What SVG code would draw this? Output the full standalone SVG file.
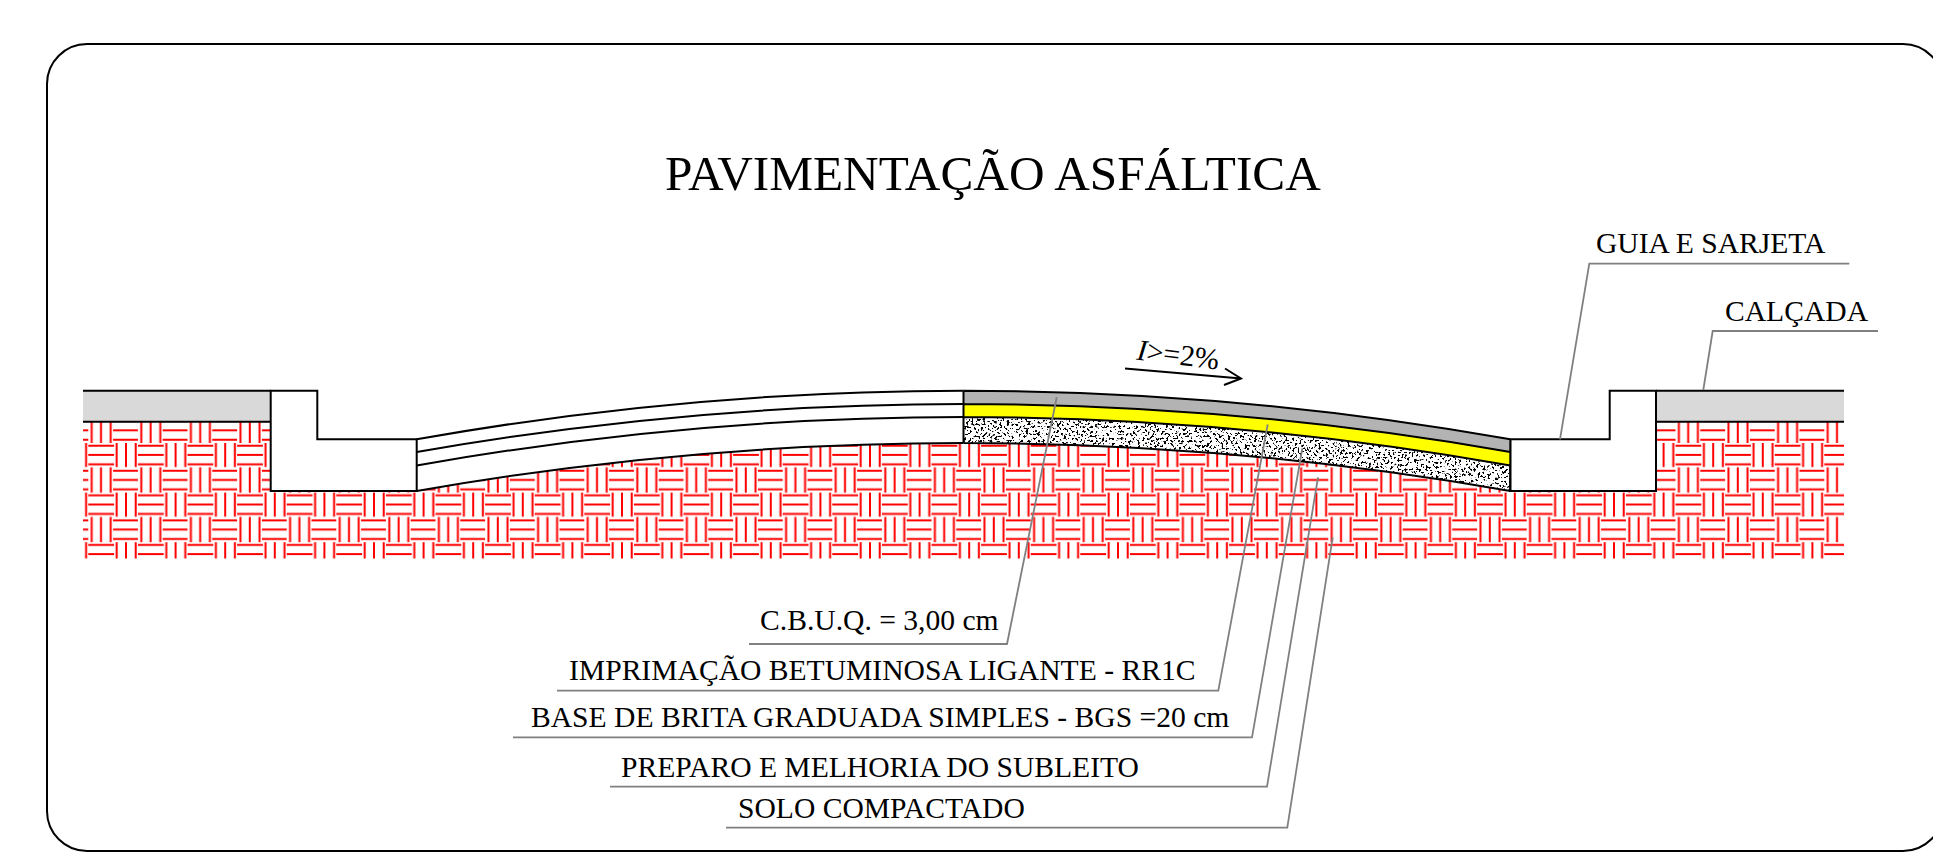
<svg xmlns="http://www.w3.org/2000/svg" width="1933" height="861" viewBox="0 0 1933 861">
<style>
.ln{fill:none;stroke:#000;stroke-width:2}
.ld{fill:none;stroke:#808080;stroke-width:1.8}
.lb{font-family:"Liberation Serif","Times New Roman",serif;font-size:29.6px;fill:#000}
.br{stroke:#f00;stroke-width:2;fill:none}
</style>
<defs>
<pattern id="weave" patternUnits="userSpaceOnUse" x="88.3" y="443" width="49.6" height="49.6">
<path class="br" d="M0 2.7H25.8M0 12H25.8M0 21.3H25.8M28.4 -1V24M37.7 -1V24M47.4 -1V24M24.8 27.7H50.6M24.8 37H50.6M24.8 46.3H50.6M3.4 24.3V49.6M12.7 24.3V49.6M22.4 24.3V49.6"/>
</pattern>
<filter id="grit" x="0" y="0" width="1" height="1" color-interpolation-filters="sRGB">
<feTurbulence type="fractalNoise" baseFrequency="0.42" numOctaves="2" seed="7" result="n"/>
<feColorMatrix in="n" type="matrix" values="0 0 0 0 0 0 0 0 0 0 0 0 0 0 0 20 0 0 0 -11.4" result="d"/>
<feComposite in="d" in2="SourceAlpha" operator="in"/>
</filter>
</defs>
<rect id="frame" x="47" y="44" width="1896" height="807" rx="40" ry="40" class="ln"/>
<text id="title" x="665" y="190" font-family="Liberation Serif, serif" font-size="49.300" fill="#000">PAVIMENTAÇÃO ASFÁLTICA</text>
<path id="solo" d="M83 421H270.700V491H416.700Q690 443 963.500 443Q1237 443 1510.300 491H1656V421H1844V558.500H83Z" fill="url(#weave)"/>
<g id="calcada-esq"><rect x="83" y="390.700" width="187.700" height="31" fill="#d9d9d9"/><path class="ln" d="M83 390.700H270.700M83 421.700H270.700"/></g>
<g id="calcada-dir"><rect x="1656" y="390.700" width="188" height="31" fill="#d9d9d9"/><path class="ln" d="M1656 390.700H1844M1656 421.700H1844"/></g>
<g id="guia-esq"><path class="ln" d="M270.700 390.700H317.300V439.300H416.700V491H270.700Z"/></g>
<g id="guia-dir"><path class="ln" d="M1656 390.700H1609.700V439.300H1510.300V491H1656Z"/></g>
<g id="pavimento-esq">
<path class="ln" d="M416.700 439.300Q690 390.700 963.500 390.700M416.700 452Q690 404 963.500 404M416.700 465.500Q690 417 963.500 417M416.700 491Q690 443 963.500 443"/>
</g>
<g id="pavimento-dir">
<path d="M963.500 443V417Q1237 417 1510.300 465.500V491Q1237 443 963.500 443Z" fill="#000" filter="url(#grit)"/>
<path d="M963.500 404Q1237 404 1510.300 452V465.500Q1237 417 963.500 417Z" fill="#ff0"/>
<path d="M963.500 390.700Q1237 390.700 1510.300 439.300V452Q1237 404 963.500 404Z" fill="#b3b3b3"/>
<path class="ln" d="M963.500 390.700Q1237 390.700 1510.300 439.300M963.500 404Q1237 404 1510.300 452M963.500 417Q1237 417 1510.300 465.500M963.500 443Q1237 443 1510.300 491M963.500 390.700V443M1510.300 439.300V491"/>
</g>
<g id="inclinacao">
<text x="0" y="0" transform="translate(1136 359.500) rotate(7)" font-family="Liberation Serif, serif" font-size="29.600" fill="#000"><tspan font-style="italic">I</tspan>&gt;=2%</text>
<path d="M1125 368.500L1241 378.500M1225 368.500L1241 378.500L1224 385" class="ln"/>
</g>
<g id="connectors">
<path class="ld" d="M749 644H1007L1056.700 397.300"/>
<path class="ld" d="M557 690.700H1218.300L1267.700 424.300"/>
<path class="ld" d="M513 737.300H1252L1302.300 448.300"/>
<path class="ld" d="M610 786.700H1267L1318 477.300"/>
<path class="ld" d="M726 827.700H1287.300L1332.700 537.300"/>
<path class="ld" d="M1849.300 263.700H1589.300L1560 439.300"/>
<path class="ld" d="M1878 331H1712.700L1703.300 390"/>
</g>
<g id="l-cbuq"><text class="lb" x="760" y="630">C.B.U.Q. = 3,00 cm</text></g>
<g id="l-imprimacao"><text class="lb" x="569" y="680">IMPRIMAÇÃO BETUMINOSA LIGANTE - RR1C</text></g>
<g id="l-base"><text class="lb" x="531" y="727">BASE DE BRITA GRADUADA SIMPLES - BGS =20 cm</text></g>
<g id="l-preparo"><text class="lb" x="621" y="777">PREPARO E MELHORIA DO SUBLEITO</text></g>
<g id="l-solo"><text class="lb" x="738" y="818">SOLO COMPACTADO</text></g>
<g id="l-guia"><text class="lb" x="1596" y="253">GUIA E SARJETA</text></g>
<g id="l-calcada"><text class="lb" x="1725" y="321">CALÇADA</text></g>
</svg>
